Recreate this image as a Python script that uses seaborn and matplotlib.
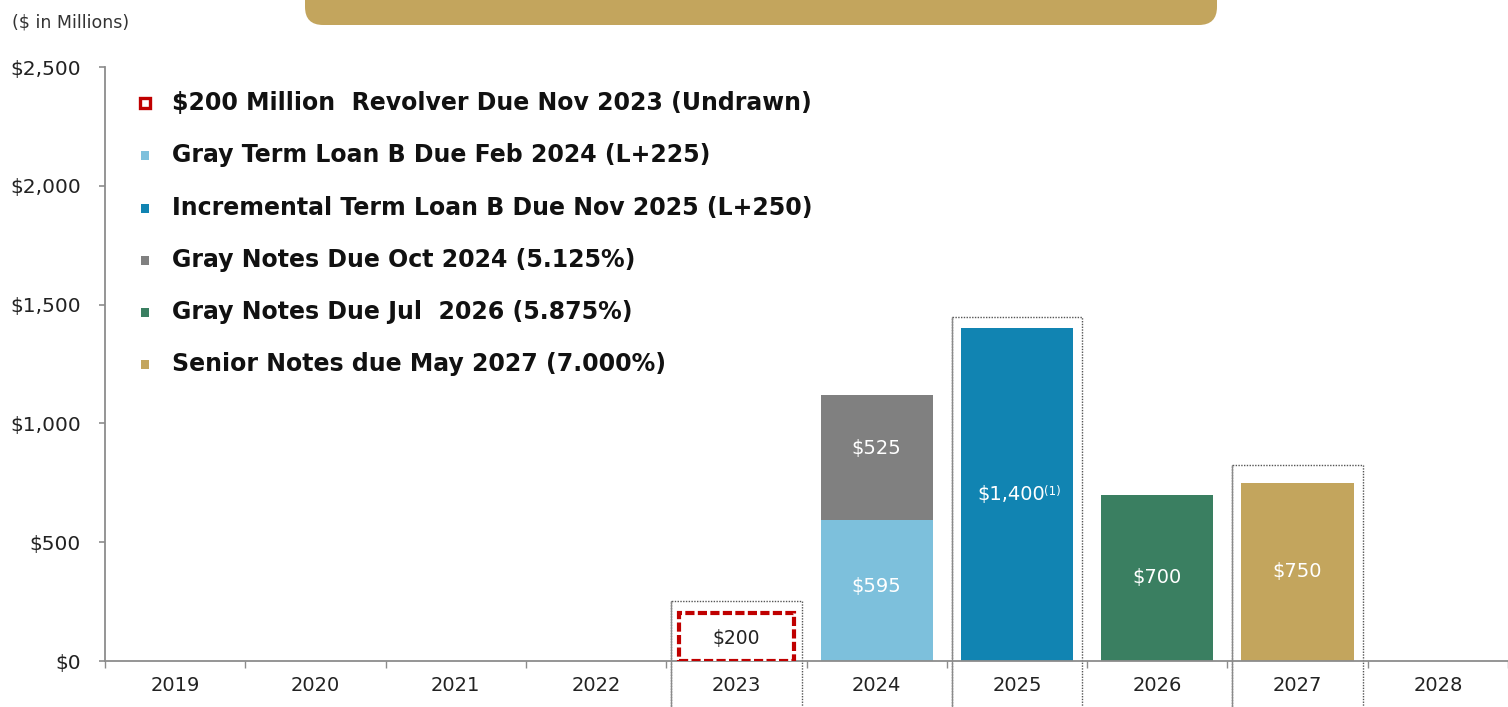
import matplotlib
matplotlib.use("Agg")
import matplotlib.pyplot as plt
from matplotlib.patches import Rectangle, FancyBboxPatch
import seaborn as sns
import pandas as pd
import numpy as np

# ---------------- data ----------------
years = ["2019", "2020", "2021", "2022", "2023", "2024", "2025", "2026", "2027", "2028"]
revolver = [0, 0, 0, 0, 200, 0, 0, 0, 0, 0]
term_loan_b = [0, 0, 0, 0, 0, 595, 0, 0, 0, 0]
incremental_tlb = [0, 0, 0, 0, 0, 0, 1400, 0, 0, 0]
notes_2024 = [0, 0, 0, 0, 0, 525, 0, 0, 0, 0]
notes_2026 = [0, 0, 0, 0, 0, 0, 0, 700, 0, 0]
senior_2027 = [0, 0, 0, 0, 0, 0, 0, 0, 750, 0]
highlight_years = ["2023", "2025", "2027"]
highlight_tops = [252, 1448, 825]

legend_labels = [
    "$200 Million  Revolver Due Nov 2023 (Undrawn)",
    "Gray Term Loan B Due Feb 2024 (L+225)",
    "Incremental Term Loan B Due Nov 2025 (L+250)",
    "Gray Notes Due Oct 2024 (5.125%)",
    "Gray Notes Due Jul  2026 (5.875%)",
    "Senior Notes due May 2027 (7.000%)",
]
yticks = [0, 500, 1000, 1500, 2000, 2500]
ytick_labels = ["$0", "$500", "$1,000", "$1,500", "$2,000", "$2,500"]

# ---------------- style ----------------
c_red = "#C00000"
c_light = "#7DC0DC"
c_blue = "#1184B2"
c_gray = "#808080"
c_green = "#3A7F61"
c_gold = "#C3A55D"
axis_col = "#8C8C8C"

sns.set_theme(style="white")
plt.rcParams["font.family"] = ["DejaVu Sans"]

fig = plt.figure(figsize=(15.08, 7.07), dpi=100)
ax = fig.add_axes([105 / 1508, 46 / 707, 1 - 105 / 1508, (661 - 67) / 707])

df = pd.DataFrame({
    "year": years,
    "revolver": revolver,
    "tlb": term_loan_b,
    "itlb": incremental_tlb,
    "n24": notes_2024,
    "n26": notes_2026,
    "s27": senior_2027,
})
df["stack24"] = df["tlb"] + df["n24"]

common = dict(x="year", order=years, ax=ax, saturation=1, width=0.8, linewidth=0)
# stacked 2024: draw total (gray) first, then base (light blue)
sns.barplot(data=df, y="stack24", color=c_gray, **common)
sns.barplot(data=df, y="tlb", color=c_light, **common)
sns.barplot(data=df, y="itlb", color=c_blue, **common)
sns.barplot(data=df, y="n26", color=c_green, **common)
sns.barplot(data=df, y="s27", color=c_gold, **common)

for p in list(ax.patches):
    if p.get_height() == 0:
        p.remove()

# revolver dashed bar
n_before = len(ax.patches)
sns.barplot(data=df, x="year", y="revolver", order=years, ax=ax, saturation=1,
            width=0.82, color="white", edgecolor=c_red, linewidth=3,
            linestyle=(0, (2.2, 0.8)))
for p in list(ax.patches)[n_before:]:
    if p.get_height() == 0:
        p.remove()
    else:
        p.set_zorder(3)

# dotted highlight boxes
for yr, top in zip(highlight_years, highlight_tops):
    xi = years.index(yr)
    r = Rectangle((xi - 0.465, -260), 0.93, top + 260, fill=False, edgecolor="#555555",
                  linewidth=1.0, linestyle=(0, (1, 1)), clip_on=False, zorder=1)
    ax.add_patch(r)
    ax.plot([xi - 0.465, xi - 0.465], [-260, top], color="#8a8a8a", lw=1.0,
            clip_on=False, zorder=1)

# bar value labels
lab_kw = dict(ha="center", va="center", color="white", fontsize=14)
for i, yr in enumerate(years):
    if term_loan_b[i]:
        ax.text(i, term_loan_b[i] * 0.53, f"${term_loan_b[i]:,}", **lab_kw)
    if notes_2024[i]:
        ax.text(i, term_loan_b[i] + notes_2024[i] * 0.57, f"${notes_2024[i]:,}", **lab_kw)
    if incremental_tlb[i]:
        ax.text(i - 0.04, 700, f"${incremental_tlb[i]:,}", **lab_kw)
        ax.text(i + 0.25, 715, "(1)", ha="center", va="center", color="white", fontsize=8.5)
    if notes_2026[i]:
        ax.text(i, 350, f"${notes_2026[i]:,}", **lab_kw)
    if senior_2027[i]:
        ax.text(i, 375, f"${senior_2027[i]:,}", **lab_kw)
    if revolver[i]:
        ax.text(i, revolver[i] * 0.5 - 5, f"${revolver[i]:,}", ha="center", va="center",
                color="#222222", fontsize=13.5, zorder=4)

# axes styling
ax.set_ylim(0, 2500)
ax.set_xlim(-0.5, len(years) - 0.5)
ax.set_yticks(yticks)
ax.set_yticklabels(ytick_labels)
ax.set_xlabel("")
ax.set_ylabel("")
for s in ["top", "right"]:
    ax.spines[s].set_visible(False)
for s in ["left", "bottom"]:
    ax.spines[s].set_color(axis_col)
    ax.spines[s].set_linewidth(1.3)
ax.tick_params(axis="y", which="major", left=True, length=4.5, width=1.2, color=axis_col,
               labelsize=14.5, labelcolor="#222222", pad=13)
ax.tick_params(axis="x", which="major", bottom=False, labelsize=14, labelcolor="#222222", pad=5)
ax.set_xticks(np.arange(-0.5, len(years), 1.0), minor=True)
ax.tick_params(axis="x", which="minor", bottom=True, length=5, width=1, color=axis_col)
ax.grid(False)

# legend as text list
leg_colors = [None, c_light, c_blue, c_gray, c_green, c_gold]
leg_y = [103, 155, 208, 260, 312, 364]
for lab, col, yp in zip(legend_labels, leg_colors, leg_y):
    fy = 1 - yp / 707
    if col is None:
        fig.patches.append(Rectangle((140 / 1508, fy - 5 / 707), 10 / 1508, 10 / 707,
                                     transform=fig.transFigure, fill=False,
                                     edgecolor=c_red, linewidth=2.4, figure=fig))
    else:
        fig.patches.append(Rectangle((141 / 1508, fy - 4.5 / 707), 8 / 1508, 9 / 707,
                                     transform=fig.transFigure, facecolor=col,
                                     edgecolor="none", figure=fig))
    fig.text(172 / 1508, fy, lab, fontsize=17, fontweight="bold", color="#111111",
             ha="left", va="center")

# units label
fig.text(12 / 1508, 1 - 22 / 707, "($ in Millions)", fontsize=12.5, color="#333333",
         ha="left", va="center")

# top banner
banner = FancyBboxPatch((305 / 1508, 1 - 25 / 707), (1217 - 305) / 1508, 60 / 707,
                        boxstyle="round,pad=0,rounding_size=0.012",
                        transform=fig.transFigure, facecolor=c_gold, edgecolor="none",
                        figure=fig, mutation_aspect=1508 / 707)
fig.patches.append(banner)

fig.savefig("out.png", dpi=100)
